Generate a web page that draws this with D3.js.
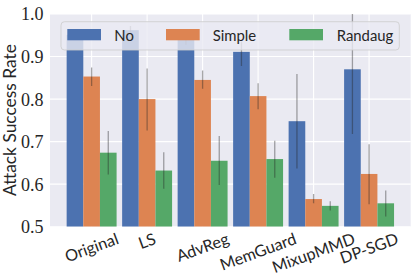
<!DOCTYPE html>
<html>
<head>
<meta charset="utf-8">
<script src="https://cdn.jsdelivr.net/npm/d3@7"></script>
<style>
  html, body { margin: 0; padding: 0; background: #fff; }
  svg { display: block; }
</style>
</head>
<body>
<svg id="chart" width="415" height="277"></svg>
<script>
// ---- data ----
const categories = ["Original", "LS", "AdvReg", "MemGuard", "MixupMMD", "DP-SGD"];
const seriesNames = ["No", "Simple", "Randaug"];
const noValues      = [0.951, 0.962, 0.940, 0.911, 0.748, 0.870];
const noLower       = [0.941, 0.952, 0.928, 0.878, 0.637, 0.718];
const noUpper       = [0.961, 0.972, 0.952, 0.935, 0.859, 1.022];
const simpleValues  = [0.853, 0.800, 0.845, 0.807, 0.565, 0.624];
const simpleLower   = [0.831, 0.726, 0.824, 0.776, 0.555, 0.553];
const simpleUpper   = [0.874, 0.872, 0.867, 0.837, 0.577, 0.694];
const randaugValues = [0.674, 0.632, 0.655, 0.659, 0.549, 0.555];
const randaugLower  = [0.623, 0.589, 0.598, 0.615, 0.538, 0.524];
const randaugUpper  = [0.725, 0.675, 0.713, 0.702, 0.560, 0.585];
const yTicks = [0.5, 0.6, 0.7, 0.8, 0.9, 1.0];
const yTickLabels = ["0.5", "0.6", "0.7", "0.8", "0.9", "1.0"];
const yLabel = "Attack Success Rate";

const colors = ["#4C72B0", "#DD8452", "#55A868"];
const series = [
  {name: seriesNames[0], values: noValues, lo: noLower, hi: noUpper},
  {name: seriesNames[1], values: simpleValues, lo: simpleLower, hi: simpleUpper},
  {name: seriesNames[2], values: randaugValues, lo: randaugLower, hi: randaugUpper}
];

// ---- layout ----
const L = 50, R = 410.7, T = 14, B = 226.7;
const SANS = "Lato, Open Sans, sans-serif";
const svg = d3.select("#chart");
const x = d3.scaleLinear().domain([-0.75, categories.length - 0.25]).range([L, R]);
const y = d3.scaleLinear().domain([0.5, 1.0]).range([B, T]);
const barW = 0.3;
const offsets = [-0.3, 0, 0.3];

svg.append("defs").append("clipPath").attr("id", "clip")
  .append("rect").attr("x", L).attr("y", T).attr("width", R - L).attr("height", B - T);

svg.append("rect").attr("x", L).attr("y", T).attr("width", R - L).attr("height", B - T)
  .attr("fill", "#EAEAF2");

// grid
const grid = svg.append("g");
grid.selectAll("line.h").data(yTicks).join("line")
  .attr("x1", L).attr("x2", R).attr("y1", d => y(d)).attr("y2", d => y(d))
  .attr("stroke", "#fff").attr("stroke-width", 1.1);
grid.selectAll("line.v").data(categories.map((c, i) => i)).join("line")
  .attr("x1", d => x(d)).attr("x2", d => x(d)).attr("y1", T).attr("y2", B)
  .attr("stroke", "#fff").attr("stroke-width", 1.1);

// bars
const plot = svg.append("g").attr("clip-path", "url(#clip)");
series.forEach((s, si) => {
  plot.selectAll(null).data(s.values).join("rect")
    .attr("x", (d, i) => x(i + offsets[si] - barW / 2))
    .attr("width", (d, i) => x(i + offsets[si] + barW / 2) - x(i + offsets[si] - barW / 2))
    .attr("y", d => y(d))
    .attr("height", d => y(0.5) - y(d))
    .attr("fill", colors[si]);
});
series.forEach((s, si) => {
  plot.selectAll(null).data(s.values).join("line")
    .attr("x1", (d, i) => x(i + offsets[si])).attr("x2", (d, i) => x(i + offsets[si]))
    .attr("y1", (d, i) => y(s.lo[i])).attr("y2", (d, i) => y(s.hi[i]))
    .attr("stroke", "#262626").attr("stroke-opacity", 0.4).attr("stroke-width", 1.3);
});

// y tick labels
svg.append("g").selectAll("text").data(yTicks).join("text")
  .attr("x", 43.5).attr("y", d => y(d)).attr("dy", "0.36em")
  .attr("text-anchor", "end")
  .attr("font-family", "Liberation Serif, DejaVu Serif, serif")
  .attr("font-size", 18).attr("fill", "#262626")
  .text((d, i) => yTickLabels[i]);

// y label
const yl = svg.append("text")
  .attr("transform", "translate(15.5,120) rotate(-90)")
  .attr("text-anchor", "middle")
  .attr("font-family", SANS)
  .attr("font-size", 18).attr("fill", "#262626")
  .text(yLabel);
{
  const w = yl.node().getComputedTextLength();
  yl.attr("font-size", Math.min(18.5, 18 * 152 / w));
}

// x tick labels, rotated 20deg, bbox centered on tick
const ang = 20 * Math.PI / 180;
const xl = svg.append("g");
let xfs = 16.5;
{
  const probe = svg.append("text").attr("font-family", SANS).attr("font-size", 16.5).text("MemGuard");
  const w = probe.node().getComputedTextLength() / 16.5;
  probe.remove();
  xfs = 79 / (w * Math.cos(ang) + 0.72 * Math.sin(ang));
}
categories.forEach((c, i) => {
  const t = xl.append("text")
    .attr("font-family", SANS)
    .attr("font-size", xfs).attr("fill", "#262626")
    .attr("text-anchor", "middle").attr("dy", "0.35em")
    .text(c);
  const w = t.node().getComputedTextLength();
  const h = xfs * 0.8;
  const H = w * Math.sin(ang) + h * Math.cos(ang);
  const cx = x(i), cy = 232 + H / 2;
  t.attr("transform", `translate(${cx},${cy}) rotate(-20)`);
});

// legend
const lg = svg.append("g");
lg.append("rect").attr("x", 61).attr("y", 21.7).attr("width", 338.3).attr("height", 28.3)
  .attr("rx", 3.5).attr("fill", "#EAEAF2").attr("fill-opacity", 0.8)
  .attr("stroke", "#cccccc").attr("stroke-opacity", 0.8).attr("stroke-width", 1);
const patchX = [67.3, 166, 289.3];
const textX = [114.3, 212.7, 336.7];
let lfs = 15.5;
{
  const probe = svg.append("text").attr("font-family", SANS).attr("font-size", 15.5).text("Simple");
  const w = probe.node().getComputedTextLength();
  probe.remove();
  lfs = 15.5 * 43.5 / w;
}
series.forEach((s, si) => {
  lg.append("rect").attr("x", patchX[si]).attr("y", 29).attr("width", 33.7).attr("height", 11.3)
    .attr("fill", colors[si]);
  lg.append("text").attr("x", textX[si]).attr("y", 35.5).attr("dy", "0.36em")
    .attr("font-family", SANS)
    .attr("font-size", lfs).attr("fill", "#262626")
    .text(s.name);
});
</script>
</body>
</html>
